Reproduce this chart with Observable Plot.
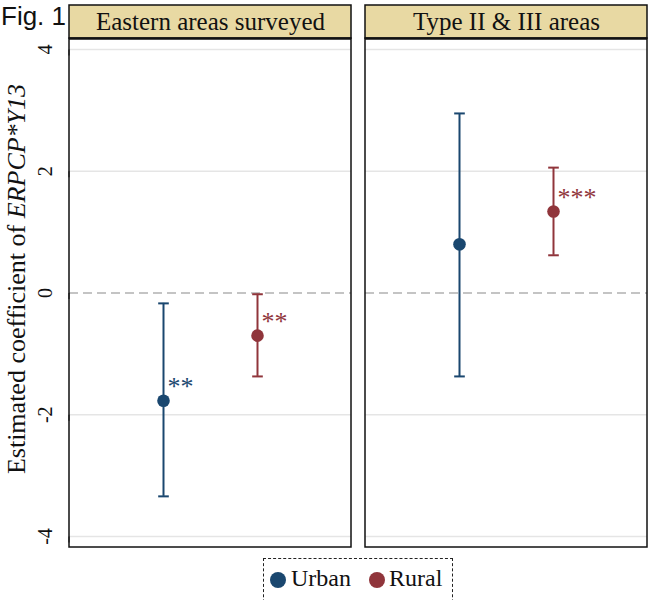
<!DOCTYPE html>
<html><head><meta charset="utf-8">
<script src="https://cdn.jsdelivr.net/npm/d3@7"></script>
<script src="https://cdn.jsdelivr.net/npm/@observablehq/plot@0.6"></script>
<style>
body{margin:0;background:#fff;}
#wrap{position:relative;width:648px;height:600px;overflow:hidden;}
.legend{position:absolute;left:263px;top:558px;width:190px;height:60px;border:1.5px dashed #222;box-sizing:border-box;
 font-family:"Liberation Serif",serif;font-size:24px;color:#111;}
.legend .sw{position:absolute;top:13px;width:16px;height:16px;border-radius:50%;}
.legend .lb{position:absolute;top:5px;line-height:28px;}
</style></head>
<body><div id="wrap"></div>
<script>
// ---- data ----
const panels = ["Eastern areas surveyed", "Type II & III areas"];
const groups = ["Urban", "Rural"];
const panel  = ["Eastern areas surveyed", "Eastern areas surveyed", "Type II & III areas", "Type II & III areas"];
const group  = ["Urban", "Rural", "Urban", "Rural"];
const coef   = [-1.77, -0.70, 0.80, 1.34];
const ciLow  = [-3.34, -1.37, -1.37, 0.62];
const ciHigh = [-0.17, -0.02, 2.95, 2.06];
const stars  = ["**", "**", "", "***"];
const yTicks = [-4, -2, 0, 2, 4];
const groupColors = ["#1a476f", "#90353b"];

const rows = panel.map((p, i) => ({panel: p, group: group[i], coef: coef[i], lo: ciLow[i], hi: ciHigh[i], star: stars[i]}));

const serif = "Liberation Serif, Times New Roman, serif";
const sans = "Liberation Sans, Arial, sans-serif";
const capSymbol = {draw(ctx, size) { const w = Math.sqrt(size); ctx.moveTo(-w, 0); ctx.lineTo(w, 0); }};
const frameLo = -4.18, frameHi = 4.18, stripHi = 4.723;

const chart = Plot.plot({
  width: 648, height: 552,
  marginLeft: 68, marginRight: 0, marginTop: 5, marginBottom: 5,
  fx: {domain: panels, padding: 0.047, axis: null},
  x: {type: "point", domain: groups, padding: 1, axis: null},
  y: {domain: [frameLo, stripHi], axis: null},
  color: {domain: groups, range: groupColors},
  style: {fontFamily: serif, background: "transparent"},
  marks: [
    Plot.ruleY([-4, -2, 2, 4], {stroke: "#e5e5e5", strokeWidth: 1.5}),
    Plot.ruleY([0], {stroke: "#c4c4c4", strokeWidth: 2, strokeDasharray: "9,5"}),
    Plot.rect(panels, {fx: d => d, y1: frameLo, y2: frameHi, fill: "none", stroke: "#111", strokeWidth: 1.5}),
    Plot.rect(panels, {fx: d => d, y1: frameHi, y2: stripHi, fill: "#e8d9a3", stroke: "#111", strokeWidth: 1.5}),
    Plot.ruleY(panels, {fx: d => d, y: frameHi, stroke: "#111", strokeWidth: 2.5}),
    Plot.text(panels, {fx: d => d, text: d => d, y: (frameHi + stripHi) / 2, frameAnchor: "middle",
      fontFamily: serif, fontSize: 25, fill: "#111", lineAnchor: "middle"}),
    Plot.ruleX(rows, {fx: "panel", x: "group", y1: "lo", y2: "hi", stroke: "group", strokeWidth: 2}),
    Plot.dot(rows, {fx: "panel", x: "group", y: "lo", symbol: capSymbol, r: 3, stroke: "group", strokeWidth: 2}),
    Plot.dot(rows, {fx: "panel", x: "group", y: "hi", symbol: capSymbol, r: 3, stroke: "group", strokeWidth: 2}),
    Plot.dot(rows, {fx: "panel", x: "group", y: "coef", r: 6.3, fill: "group", stroke: "none"}),
    Plot.text(rows, {fx: "panel", x: "group", y: "coef", text: "star", fill: "group", textAnchor: "start",
      dx: 4, dy: -14, fontFamily: serif, fontSize: 26, lineAnchor: "middle", letterSpacing: 1}),
    Plot.axisY({ticks: yTicks, tickFormat: d => String(d), tickSize: 6, tickPadding: 18, rotate: -90, textAnchor: "middle",
      fontSize: 20, fontFamily: serif, stroke: "#111", fill: "#111", label: null})
  ]
});

const svg = d3.select(chart);
svg.style("overflow", "visible");
// Figure tag behind the strip
svg.insert("text", ":first-child")
  .attr("x", 1).attr("y", 25).attr("text-anchor", "start")
  .attr("font-family", sans).attr("font-size", 26).attr("fill", "#111")
  .text("Fig. 1");
// y axis title with italic variable name
const t = svg.append("text")
  .attr("transform", "translate(25,279) rotate(-90)")
  .attr("text-anchor", "middle")
  .attr("font-family", serif).attr("font-size", 26).attr("fill", "#111");
t.append("tspan").text("Estimated coefficient of ");
t.append("tspan").attr("font-style", "italic").text("ERPCP*Y13");

const wrap = document.getElementById("wrap");
wrap.appendChild(chart);

const leg = document.createElement("div");
leg.className = "legend";
const swLeft = [6, 105], lbLeft = [27, 125];
groups.forEach((g, i) => {
  const sw = document.createElement("span");
  sw.className = "sw"; sw.style.left = swLeft[i] + "px"; sw.style.background = groupColors[i];
  const lb = document.createElement("span");
  lb.className = "lb"; lb.style.left = lbLeft[i] + "px"; lb.textContent = g;
  leg.appendChild(sw); leg.appendChild(lb);
});
wrap.appendChild(leg);
</script>
</body></html>
